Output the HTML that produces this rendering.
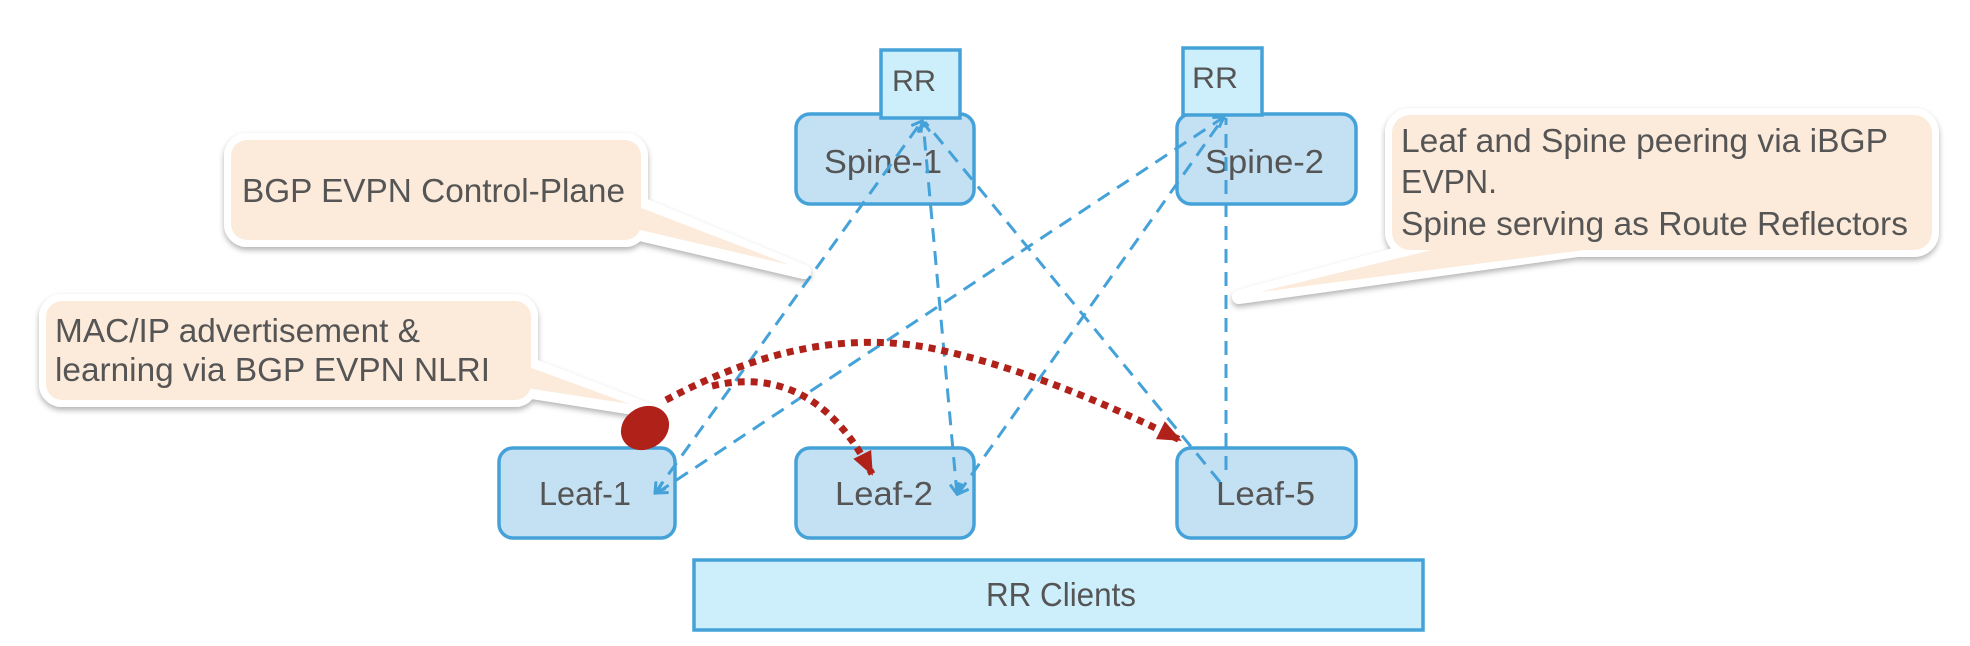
<!DOCTYPE html>
<html><head><meta charset="utf-8"><style>
html,body{margin:0;padding:0;background:#fff;}
svg{display:block;}
text{font-family:"Liberation Sans",sans-serif;fill:#555;}
</style></head><body>
<svg width="1970" height="646" viewBox="0 0 1970 646" xmlns="http://www.w3.org/2000/svg">
<defs>
<filter id="sh" x="-10%" y="-10%" width="120%" height="130%">
<feDropShadow dx="0" dy="3" stdDeviation="3" flood-color="#000" flood-opacity="0.3"/>
</filter>
<marker id="ba" markerWidth="14" markerHeight="14" refX="12" refY="7" orient="auto" markerUnits="userSpaceOnUse">
<polyline points="2,1 12,7 2,13" fill="none" stroke="#44a2d9" stroke-width="3"/>
</marker>
<marker id="bs" markerWidth="14" markerHeight="14" refX="2" refY="7" orient="auto" markerUnits="userSpaceOnUse">
<polyline points="12,1 2,7 12,13" fill="none" stroke="#44a2d9" stroke-width="3"/>
</marker>
<marker id="ra" markerWidth="26" markerHeight="26" refX="22" refY="12" orient="auto" markerUnits="userSpaceOnUse">
<polygon points="0,2 24,12 0,22" fill="#b0211a"/>
</marker>
</defs>

<!-- callouts -->
<g filter="url(#sh)" fill="#fff" stroke="#fff" stroke-width="14" stroke-linejoin="round">
<rect x="231" y="140" width="410" height="100" rx="16"/>
<polygon points="636,202 804,272 636,233"/>
<rect x="46" y="301" width="485" height="99" rx="16"/>
<polygon points="526,363 647,410 526,391"/>
<rect x="1392" y="115" width="540" height="135" rx="18"/>
<polygon points="1431,245 1239,297 1613,245"/>
</g>
<g fill="#fcebdb">
<rect x="231" y="140" width="410" height="100" rx="16"/>
<polygon points="636,206 790,265 636,229"/>
<rect x="46" y="301" width="485" height="99" rx="16"/>
<polygon points="526,366 630,404 526,388"/>
<rect x="1392" y="115" width="540" height="135" rx="18"/>
<polygon points="1440,248 1260,292 1600,248"/>
</g>
<text x="242" y="202" font-size="33" textLength="383" lengthAdjust="spacingAndGlyphs">BGP EVPN Control-Plane</text>
<text x="55" y="342" font-size="33" textLength="365" lengthAdjust="spacingAndGlyphs">MAC/IP advertisement &amp;</text>
<text x="55" y="381" font-size="33" textLength="435" lengthAdjust="spacingAndGlyphs">learning via BGP EVPN NLRI</text>
<text x="1401" y="152" font-size="33" textLength="487" lengthAdjust="spacingAndGlyphs">Leaf and Spine peering via iBGP</text>
<text x="1401" y="193" font-size="33" textLength="96" lengthAdjust="spacingAndGlyphs">EVPN.</text>
<text x="1401" y="235" font-size="33" textLength="507" lengthAdjust="spacingAndGlyphs">Spine serving as Route Reflectors</text>

<!-- nodes -->
<g fill="#c4e0f3" stroke="#44a2d9" stroke-width="3.5">
<rect x="796" y="114" width="178" height="90" rx="14"/>
<rect x="1177" y="114" width="179" height="90" rx="14"/>
<rect x="499" y="448" width="176" height="90" rx="14"/>
<rect x="796" y="448" width="178" height="90" rx="14"/>
<rect x="1177" y="448" width="179" height="90" rx="14"/>
</g>
<g fill="#cdeefb" stroke="#44a2d9" stroke-width="3.5">
<rect x="881" y="50" width="79" height="68"/>
<rect x="1183" y="48" width="79" height="67"/>
<rect x="694" y="560" width="729" height="70"/>
</g>
<text x="892" y="91" font-size="30" textLength="44" lengthAdjust="spacingAndGlyphs">RR</text>
<text x="1192" y="88" font-size="30" textLength="46" lengthAdjust="spacingAndGlyphs">RR</text>
<text x="824" y="173" font-size="33" textLength="118" lengthAdjust="spacingAndGlyphs">Spine-1</text>
<text x="1205" y="173" font-size="33" textLength="119" lengthAdjust="spacingAndGlyphs">Spine-2</text>
<text x="539" y="505" font-size="33" textLength="92" lengthAdjust="spacingAndGlyphs">Leaf-1</text>
<text x="835" y="505" font-size="33" textLength="98" lengthAdjust="spacingAndGlyphs">Leaf-2</text>
<text x="1216" y="505" font-size="33" textLength="99" lengthAdjust="spacingAndGlyphs">Leaf-5</text>
<text x="986" y="606" font-size="33" textLength="150" lengthAdjust="spacingAndGlyphs">RR Clients</text>

<!-- blue dashed links -->
<g stroke="#44a2d9" stroke-width="3" stroke-dasharray="14,9" fill="none">
<line x1="655" y1="493" x2="922" y2="121" marker-start="url(#bs)" marker-end="url(#ba)"/>
<line x1="657" y1="493" x2="1224" y2="117" marker-start="url(#bs)" marker-end="url(#ba)"/>
<line x1="957" y1="494" x2="923" y2="122" marker-start="url(#bs)" marker-end="url(#ba)"/>
<line x1="958" y1="494" x2="1224" y2="117" marker-start="url(#bs)"/>
<line x1="1220" y1="482" x2="925" y2="122"/>
<line x1="1226" y1="470" x2="1226" y2="118"/>
</g>

<!-- red dotted -->
<ellipse cx="645" cy="428" rx="25" ry="21" transform="rotate(-30 645 428)" fill="#b0211a"/>
<g stroke="#b0211a" stroke-width="7" stroke-dasharray="7,6" fill="none">
<path d="M666,400 C760,350 850,330 940,350 C1030,370 1120,410 1180,440" marker-end="url(#ra)"/>
<path d="M712,386 C770,372 830,390 872,474" marker-end="url(#ra)"/>
</g>
</svg>
</body></html>
